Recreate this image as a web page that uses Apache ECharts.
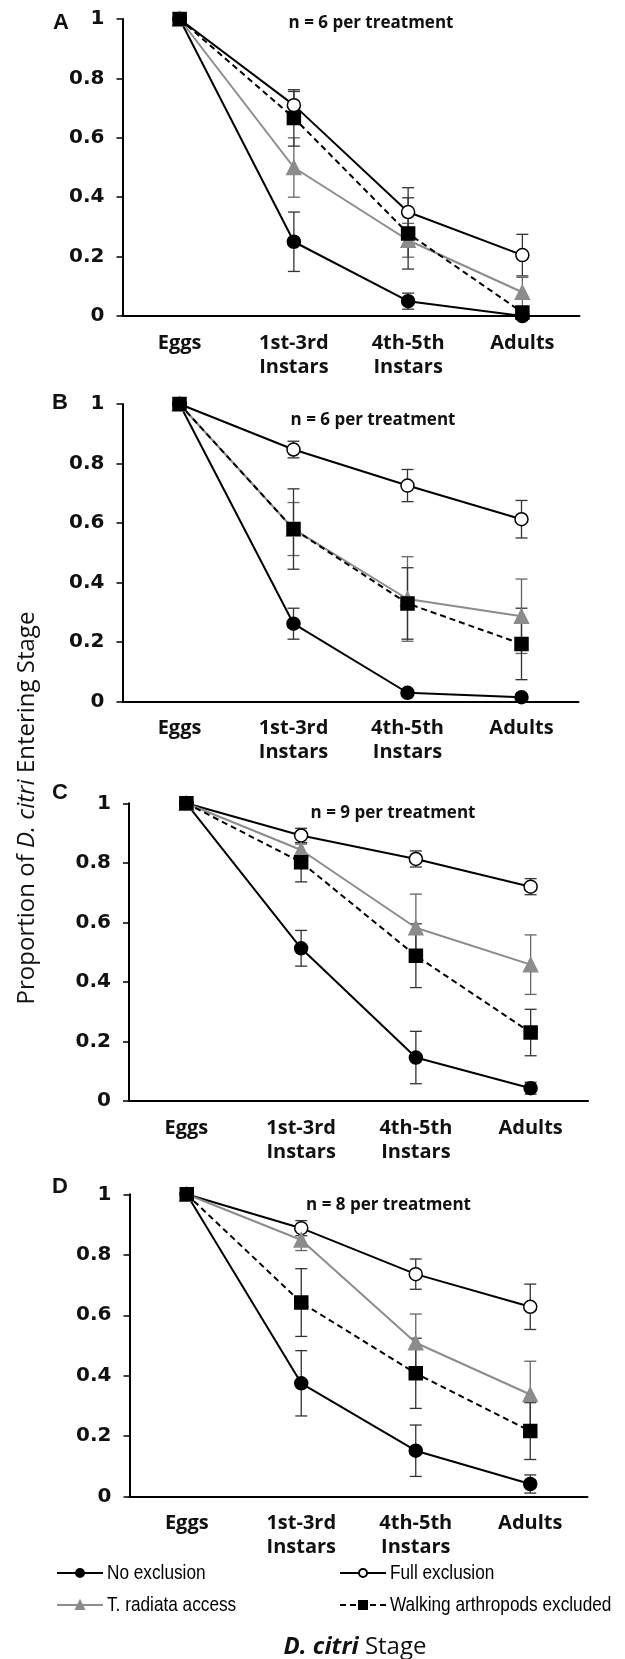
<!DOCTYPE html>
<html><head><meta charset="utf-8">
<script src="https://cdn.jsdelivr.net/npm/echarts@6/dist/echarts.min.js"></script>
<style>html,body{margin:0;padding:0;background:#fff}#c{width:625px;height:1659px}</style>
</head><body><div id="c"></div>
<script>
// ---------- data ----------
const stages = ['Eggs', '1st-3rd\nInstars', '4th-5th\nInstars', 'Adults'];
const seriesNames = ['No exclusion', 'Full exclusion', 'T. radiata access', 'Walking arthropods excluded'];
const panelLetters = ['A', 'B', 'C', 'D'];
const panelNotes = ['n = 6 per treatment', 'n = 6 per treatment', 'n = 9 per treatment', 'n = 8 per treatment'];

// Panel A
const A_noExcl = [1, 0.25, 0.05, 0.0];
const A_noExclErr = [0, 0.10, 0.027, 0];
const A_fullExcl = [1, 0.71, 0.35, 0.205];
const A_fullExclErr = [0, 0.046, 0.082, 0.07];
const A_tRad = [1, 0.50, 0.255, 0.08];
const A_tRadErr = [0, 0.10, 0.057, 0.05];
const A_walk = [1, 0.667, 0.278, 0.012];
const A_walkErr = [0, 0.095, 0.12, 0];

// Panel B
const B_noExcl = [1, 0.262, 0.03, 0.015];
const B_noExclErr = [0, 0.052, 0, 0];
const B_fullExcl = [1, 0.847, 0.726, 0.613];
const B_fullExclErr = [0, 0.028, 0.054, 0.063];
const B_tRad = [1, 0.58, 0.345, 0.287];
const B_tRadErr = [0, 0.089, 0.142, 0.125];
const B_walk = [1, 0.58, 0.33, 0.194];
const B_walkErr = [0, 0.135, 0.12, 0.12];

// Panel C
const C_noExcl = [1, 0.513, 0.146, 0.043];
const C_noExclErr = [0, 0.06, 0.088, 0.02];
const C_fullExcl = [1, 0.892, 0.813, 0.72];
const C_fullExclErr = [0, 0.024, 0.027, 0.027];
const C_tRad = [1, 0.843, 0.582, 0.458];
const C_tRadErr = [0, 0.02, 0.113, 0.1];
const C_walk = [1, 0.802, 0.488, 0.23];
const C_walkErr = [0, 0.066, 0.107, 0.078];

// Panel D
const D_noExcl = [1, 0.375, 0.152, 0.042];
const D_noExclErr = [0, 0.108, 0.085, 0.03];
const D_fullExcl = [1, 0.888, 0.736, 0.628];
const D_fullExclErr = [0, 0.025, 0.05, 0.075];
const D_tRad = [1, 0.849, 0.509, 0.338];
const D_tRadErr = [0, 0.035, 0.095, 0.11];
const D_walk = [1, 0.642, 0.408, 0.217];
const D_walkErr = [0, 0.112, 0.116, 0.094];

const panels = [
  [[A_noExcl, A_noExclErr], [A_fullExcl, A_fullExclErr], [A_tRad, A_tRadErr], [A_walk, A_walkErr]],
  [[B_noExcl, B_noExclErr], [B_fullExcl, B_fullExclErr], [B_tRad, B_tRadErr], [B_walk, B_walkErr]],
  [[C_noExcl, C_noExclErr], [C_fullExcl, C_fullExclErr], [C_tRad, C_tRadErr], [C_walk, C_walkErr]],
  [[D_noExcl, D_noExclErr], [D_fullExcl, D_fullExclErr], [D_tRad, D_tRadErr], [D_walk, D_walkErr]]
];

// ---------- layout / style ----------
const grids = [
  {left: 122.5, top: 19, width: 457, height: 297},
  {left: 122.5, top: 404, width: 456, height: 297.7},
  {left: 129, top: 803.3, width: 459, height: 297.7},
  {left: 129.5, top: 1194.3, width: 458, height: 302.4}
];
const letterPos = [[61, 22.5], [60, 403], [60, 793], [60, 1187]];
const notePos = [[371, 23], [373, 420], [393, 813], [388.5, 1205]];

const styles = [
  {symbol: 'circle', size: 13, fill: '#000', border: '#000', line: '#000', type: 'solid', err: '#333'},
  {symbol: 'circle', size: 13, fill: '#fff', border: '#000', line: '#000', type: 'solid', err: '#333'},
  {symbol: 'triangle', size: 14, fill: '#8c8c8c', border: '#8c8c8c', line: '#8c8c8c', type: 'solid', err: '#666'},
  {symbol: 'rect', size: 13, fill: '#000', border: '#000', line: '#000', type: [6, 4], err: '#333'}
];

function makeErrRender(color) {
  return function (params, api) {
    const x = api.value(0), v = api.value(1), e = api.value(2);
    if (!e) return null;
    const hi = api.coord([x, v + e]), lo = api.coord([x, v - e]);
    const w = 6;
    const st = {stroke: color, lineWidth: 1.3};
    return {type: 'group', children: [
      {type: 'line', shape: {x1: hi[0], y1: hi[1], x2: lo[0], y2: lo[1]}, style: st},
      {type: 'line', shape: {x1: hi[0] - w, y1: hi[1], x2: hi[0] + w, y2: hi[1]}, style: st},
      {type: 'line', shape: {x1: lo[0] - w, y1: lo[1], x2: lo[0] + w, y2: lo[1]}, style: st}
    ]};
  };
}

const xAxes = [], yAxes = [], series = [], graphics = [];
panels.forEach((panel, p) => {
  xAxes.push({
    type: 'category', gridIndex: p, data: stages, boundaryGap: true,
    axisLine: {lineStyle: {color: '#000', width: 2}},
    axisTick: {alignWithLabel: true, length: 6, lineStyle: {color: '#000', width: 1.5}},
    axisLabel: {margin: 15, color: '#111', fontFamily: 'Open Sans', fontWeight: 'bold', fontSize: 20, lineHeight: 24, interval: 0}
  });
  yAxes.push({
    type: 'value', gridIndex: p, min: 0, max: 1, interval: 0.2,
    splitLine: {show: false},
    axisLine: {show: true, lineStyle: {color: '#000', width: 2}},
    axisTick: {show: true, length: 6, lineStyle: {color: '#000', width: 1.5}},
    axisLabel: {margin: 18, color: '#111', fontFamily: 'DejaVu Sans', fontWeight: 'bold', fontSize: 20}
  });
  panel.forEach((pair, s) => {
    const st = styles[s];
    series.push({
      type: 'custom', name: 'err' + p + s, xAxisIndex: p, yAxisIndex: p, z: 1,
      renderItem: makeErrRender(st.err),
      encode: {x: 0, y: 1},
      data: pair[0].map((v, i) => [i, v, pair[1][i]]),
      silent: true
    });
  });
  panel.forEach((pair, s) => {
    const st = styles[s];
    series.push({
      type: 'line', name: seriesNames[s], xAxisIndex: p, yAxisIndex: p, z: 3 + s,
      data: pair[0],
      symbol: st.symbol, symbolSize: st.size, showAllSymbol: true,
      itemStyle: {color: st.fill, borderColor: st.border, borderWidth: 1.5},
      lineStyle: {color: st.line, width: 2, type: st.type},
      emphasis: {disabled: true}
    });
  });
  graphics.push({
    type: 'text', x: letterPos[p][0], y: letterPos[p][1],
    style: {text: panelLetters[p], font: 'bold 22px "Liberation Sans", Arial, sans-serif', fill: '#111', textAlign: 'center', textVerticalAlign: 'middle'}
  });
  graphics.push({
    type: 'text', x: notePos[p][0], y: notePos[p][1],
    style: {text: panelNotes[p], font: 'bold 17px "Open Sans", sans-serif', fill: '#111', textAlign: 'center', textVerticalAlign: 'middle'}
  });
});

// y-axis title (rotated)
graphics.push({
  type: 'text', x: 27, y: 808, rotation: Math.PI / 2,
  style: {
    text: '{n|Proportion of }{i|D. citri}{n| Entering Stage}',
    textAlign: 'center', textVerticalAlign: 'middle',
    rich: {
      n: {fontFamily: 'Open Sans', fontSize: 24, fill: '#111', color: '#111'},
      i: {fontFamily: 'Open Sans', fontSize: 24, fontStyle: 'italic', fill: '#111', color: '#111'}
    }
  }
});
// x-axis title
graphics.push({
  type: 'text', x: 355, y: 1647,
  style: {
    text: '{i|D. citri}{n| Stage}',
    textAlign: 'center', textVerticalAlign: 'middle',
    rich: {
      n: {fontFamily: 'Open Sans', fontSize: 24, fill: '#111', color: '#111'},
      i: {fontFamily: 'Open Sans', fontSize: 24, fontStyle: 'italic', fontWeight: 'bold', fill: '#111', color: '#111'}
    }
  }
});

// legend: icons from the ECharts legend, labels as narrow text
const legendSpots = [[56, 1573, 0], [56, 1605, 2], [339, 1573, 1], [339, 1605, 3]];
const legends = legendSpots.map(([x, y, s]) => ({
  data: [seriesNames[s]], orient: 'vertical', left: x, top: y - 5,
  itemWidth: 46, itemHeight: 10, padding: 0, selectedMode: false,
  formatter: () => '', textStyle: {fontSize: 1, lineHeight: 1}
}));
legendSpots.forEach(([x, y, s]) => {
  graphics.push({
    type: 'text', x: x + 51, y: y, scaleX: 0.82,
    style: {text: seriesNames[s], font: '21px "Liberation Sans", Arial, sans-serif', fill: '#000', textAlign: 'left', textVerticalAlign: 'middle'}
  });
});

const option = {
  animation: false,
  backgroundColor: '#fff',
  grid: grids.map(g => Object.assign({containLabel: false}, g)),
  xAxis: xAxes,
  yAxis: yAxes,
  legend: legends,
  series: series,
  graphic: graphics
};
const chart = echarts.init(document.getElementById('c'), null, {renderer: 'canvas'});
chart.setOption(option);
</script>
</body></html>
